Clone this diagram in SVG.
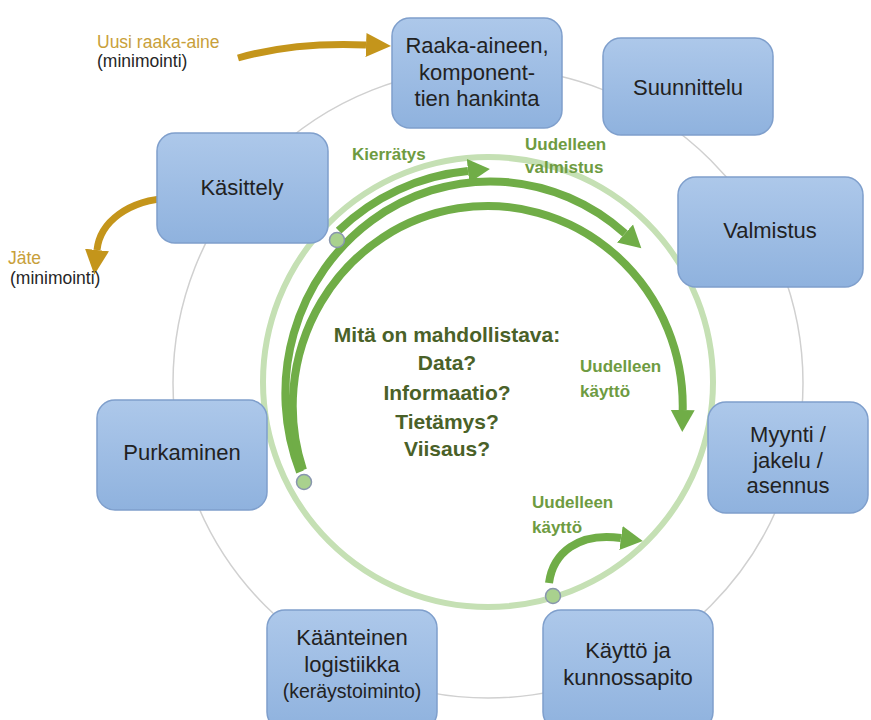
<svg xmlns="http://www.w3.org/2000/svg" width="871" height="720" viewBox="0 0 871 720">
<style>
.node rect{fill:url(#blue);stroke:#7f9fcc;stroke-width:1.5}
.nt{font-family:"Liberation Sans",Arial,sans-serif;font-size:22px;fill:#222;text-anchor:middle}
.gl{font-family:"Liberation Sans",Arial,sans-serif;font-size:17px;font-weight:bold;fill:#6e9b41}
.ct{font-family:"Liberation Sans",Arial,sans-serif;font-size:21px;font-weight:bold;fill:#4a6128;text-anchor:middle}
.side{font-family:"Liberation Sans",Arial,sans-serif;font-size:17.5px}
.arc{fill:none;stroke:#70ad47;stroke-width:8;marker-end:url(#ga)}
.gold{fill:none;stroke:#c4951b;stroke-width:7;marker-end:url(#ya)}
.dot{fill:#a9d18e;stroke:#8896ae;stroke-width:1.5}
</style>
<defs>
<linearGradient id="blue" x1="0" y1="0" x2="0" y2="1">
<stop offset="0" stop-color="#adc8ea"/>
<stop offset="1" stop-color="#8fb2de"/>
</linearGradient>
<marker id="ga" markerUnits="userSpaceOnUse" markerWidth="26" markerHeight="28" refX="0" refY="13" orient="auto" viewBox="0 0 26 28">
<path d="M0,1 L22,13 L0,25 z" fill="#70ad47"/>
</marker>
<marker id="ya" markerUnits="userSpaceOnUse" markerWidth="28" markerHeight="28" refX="0" refY="13" orient="auto" viewBox="0 0 28 28">
<path d="M0,1 L25,13 L0,25 z" fill="#c4951b"/>
</marker>
</defs>
<rect width="871" height="720" fill="#fff"/>
<g id="connectors">
<circle cx="488" cy="383" r="315" fill="none" stroke="#d0d0d0" stroke-width="1.5"/>
<circle cx="488" cy="382" r="225" fill="none" stroke="#c5e0b4" stroke-width="6"/>
<path class="arc" d="M338.6,230.6 A215,215 0 0,1 468,171"/>
<path class="arc" d="M300,472 A205,212 0 0,1 625,233.5"/>
<path class="arc" d="M303,470 A195,200 0 1,1 682.7,410"/>
<path class="arc" d="M549,583 C553,553 578,532 621,538"/>
<circle class="dot" cx="337" cy="240" r="7.5"/>
<circle class="dot" cx="304" cy="482" r="7.5"/>
<circle class="dot" cx="553" cy="596" r="7.5"/>
<path class="gold" d="M238,58 C280,46 320,43 366,45"/>
<path class="gold" d="M171,198 C128,200 100,222 97,250"/>
<text class="gl" x="352" y="160">Kierrätys</text>
<text class="gl" x="525" y="150">Uudelleen</text>
<text class="gl" x="525" y="173">valmistus</text>
<text class="gl" x="580" y="372">Uudelleen</text>
<text class="gl" x="580" y="397">käyttö</text>
<text class="gl" x="532" y="508">Uudelleen</text>
<text class="gl" x="532" y="533">käyttö</text>
<text class="side" x="97" y="48" fill="#c8a03a">Uusi raaka-aine</text>
<text class="side" x="97" y="67" fill="#262626">(minimointi)</text>
<text class="side" x="8" y="264" fill="#c8a03a">Jäte</text>
<text class="side" x="10" y="284" fill="#262626">(minimointi)</text>
</g>
<g id="center-text">
<text class="ct" x="447" y="342">Mitä on mahdollistava:</text>
<text class="ct" x="447" y="370">Data?</text>
<text class="ct" x="447" y="400">Informaatio?</text>
<text class="ct" x="447" y="429">Tietämys?</text>
<text class="ct" x="447" y="456">Viisaus?</text>
</g>
<g id="node-hankinta" class="node">
<rect x="392" y="18" width="170" height="110" rx="18"/>
<text class="nt" x="477" y="53">Raaka-aineen,</text>
<text class="nt" x="477" y="80">komponent-</text>
<text class="nt" x="477" y="106">tien hankinta</text>
</g>
<g id="node-suunnittelu" class="node">
<rect x="603" y="38" width="170" height="97" rx="18"/>
<text class="nt" x="688" y="95">Suunnittelu</text>
</g>
<g id="node-valmistus" class="node">
<rect x="678" y="177" width="185" height="110" rx="18"/>
<text class="nt" x="770" y="238">Valmistus</text>
</g>
<g id="node-myynti" class="node">
<rect x="708" y="402" width="160" height="111" rx="18"/>
<text class="nt" x="788" y="442">Myynti /</text>
<text class="nt" x="788" y="468">jakelu /</text>
<text class="nt" x="788" y="493">asennus</text>
</g>
<g id="node-kaytto" class="node">
<rect x="543" y="610" width="170" height="120" rx="18"/>
<text class="nt" x="628" y="658">Käyttö ja</text>
<text class="nt" x="628" y="685">kunnossapito</text>
</g>
<g id="node-logistiikka" class="node">
<rect x="267" y="610" width="170" height="120" rx="18"/>
<text class="nt" x="352" y="645">Käänteinen</text>
<text class="nt" x="352" y="672">logistiikka</text>
<text class="nt" x="352" y="698" style="font-size:19.5px">(keräystoiminto)</text>
</g>
<g id="node-purkaminen" class="node">
<rect x="97" y="400" width="170" height="110" rx="18"/>
<text class="nt" x="182" y="460">Purkaminen</text>
</g>
<g id="node-kasittely" class="node">
<rect x="157" y="133" width="171" height="110" rx="18"/>
<text class="nt" x="242" y="195">Käsittely</text>
</g>
</svg>
